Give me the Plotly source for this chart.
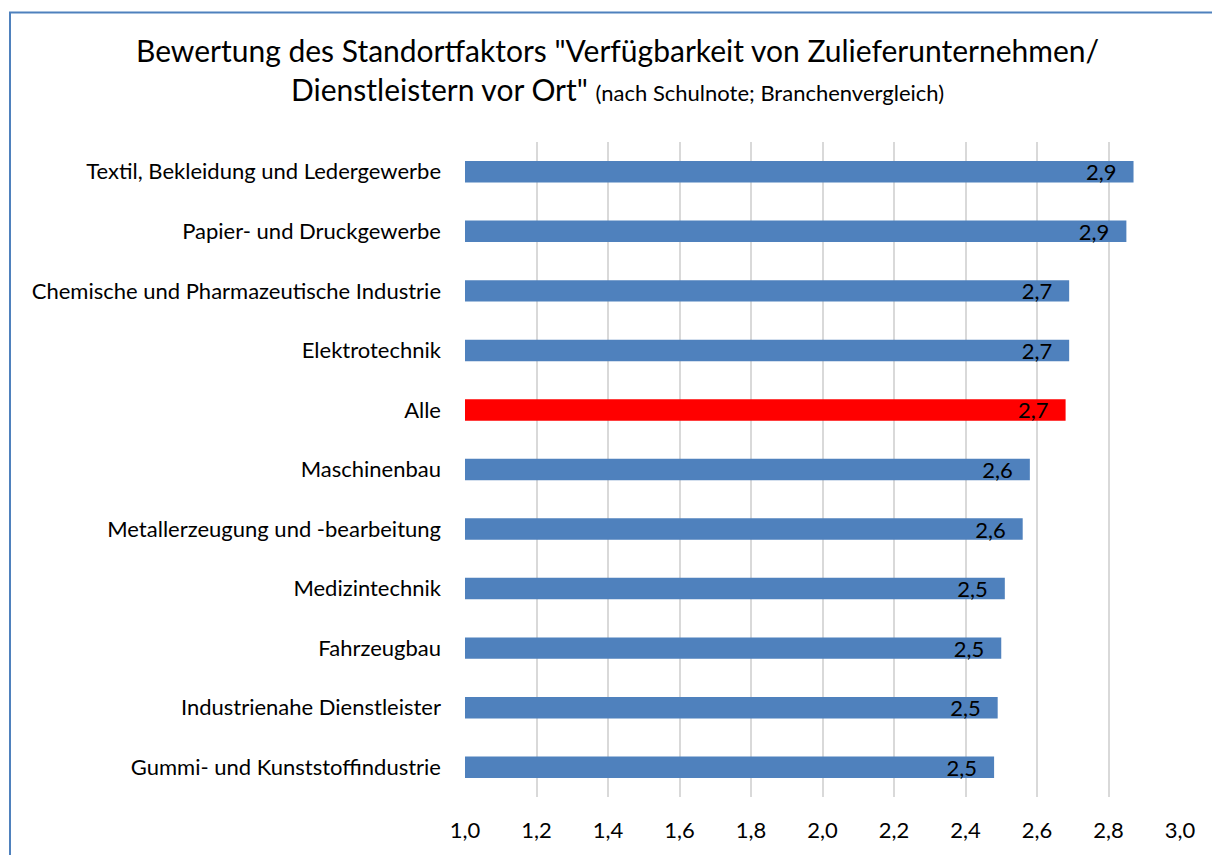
import plotly.graph_objects as go

# Daten
branchen = [
    "Textil, Bekleidung und Ledergewerbe",
    "Papier- und Druckgewerbe",
    "Chemische und Pharmazeutische Industrie",
    "Elektrotechnik",
    "Alle",
    "Maschinenbau",
    "Metallerzeugung und -bearbeitung",
    "Medizintechnik",
    "Fahrzeugbau",
    "Industrienahe Dienstleister",
    "Gummi- und Kunststoffindustrie",
]
noten = [2.87, 2.85, 2.69, 2.69, 2.68, 2.58, 2.56, 2.51, 2.50, 2.49, 2.48]
x_ticks = [1.0, 1.2, 1.4, 1.6, 1.8, 2.0, 2.2, 2.4, 2.6, 2.8, 3.0]
basis = 1.0

BLAU = "#4F81BD"
ROT = "#FF0000"
FONT = "Lato, Open Sans, sans-serif"

farben = [ROT if b == "Alle" else BLAU for b in branchen]

# Seite hat 8px Rand -> Figur etwas kleiner
W, H = 1212, 847
L, R, T, B = 457, 40, 134, 55
PW, PH = W - L - R, H - T - B


def px_x(p):
    return (p - 8 - L) / PW


def px_y(p):
    return (T + PH - (p - 8)) / PH


fig = go.Figure()

fig.add_trace(go.Bar(
    x=[n - basis for n in noten],
    y=branchen,
    base=basis,
    orientation="h",
    marker=dict(color=farben, line=dict(width=0)),
    width=0.36,
    text=[f"{n:.1f}".replace(".", ",") + "\u00a0\u00a0\u2009" for n in noten],
    textposition="inside",
    insidetextanchor="end",
    constraintext="none",
    textfont=dict(family=FONT, size=22, color="black"),
    hoverinfo="skip",
))

fig.update_layout(
    width=W,
    height=H,
    separators=",.",
    plot_bgcolor="white",
    paper_bgcolor="white",
    showlegend=False,
    margin=dict(l=L, r=R, t=T, b=B),
    font=dict(family=FONT, size=22, color="black"),
    xaxis=dict(
        range=[1.0, 3.0],
        tickvals=x_ticks,
        tickformat=".1f",
        showgrid=True,
        gridcolor="#D9D9D9",
        gridwidth=2,
        zeroline=False,
        showline=False,
        ticks="",
        ticklabelstandoff=18,
        tickfont=dict(family=FONT, size=22, color="black"),
    ),
    yaxis=dict(
        autorange="reversed",
        showgrid=False,
        zeroline=False,
        showline=False,
        ticks="",
        ticklabelstandoff=23,
        tickfont=dict(family=FONT, size=22, color="black"),
    ),
    bargap=0.64,
)

# Titel
fig.add_annotation(
    text=('Bewertung des Standortfaktors "Verfügbarkeit von Zulieferunternehmen/<br>'
          'Dienstleistern vor Ort" <span style="font-size:22px">(nach Schulnote; Branchenvergleich)</span>'),
    xref="paper", yref="paper",
    x=px_x(617), y=px_y(69),
    xanchor="center", yanchor="middle",
    showarrow=False,
    align="center",
    font=dict(family=FONT, size=30, color="black"),
)

# Rahmen
fig.add_shape(
    type="rect",
    xref="paper", yref="paper",
    x0=px_x(10), x1=px_x(1235),
    y0=px_y(875), y1=px_y(12),
    line=dict(color=BLAU, width=2),
    fillcolor="rgba(0,0,0,0)",
    layer="below",
)

fig.write_html("out.html")
